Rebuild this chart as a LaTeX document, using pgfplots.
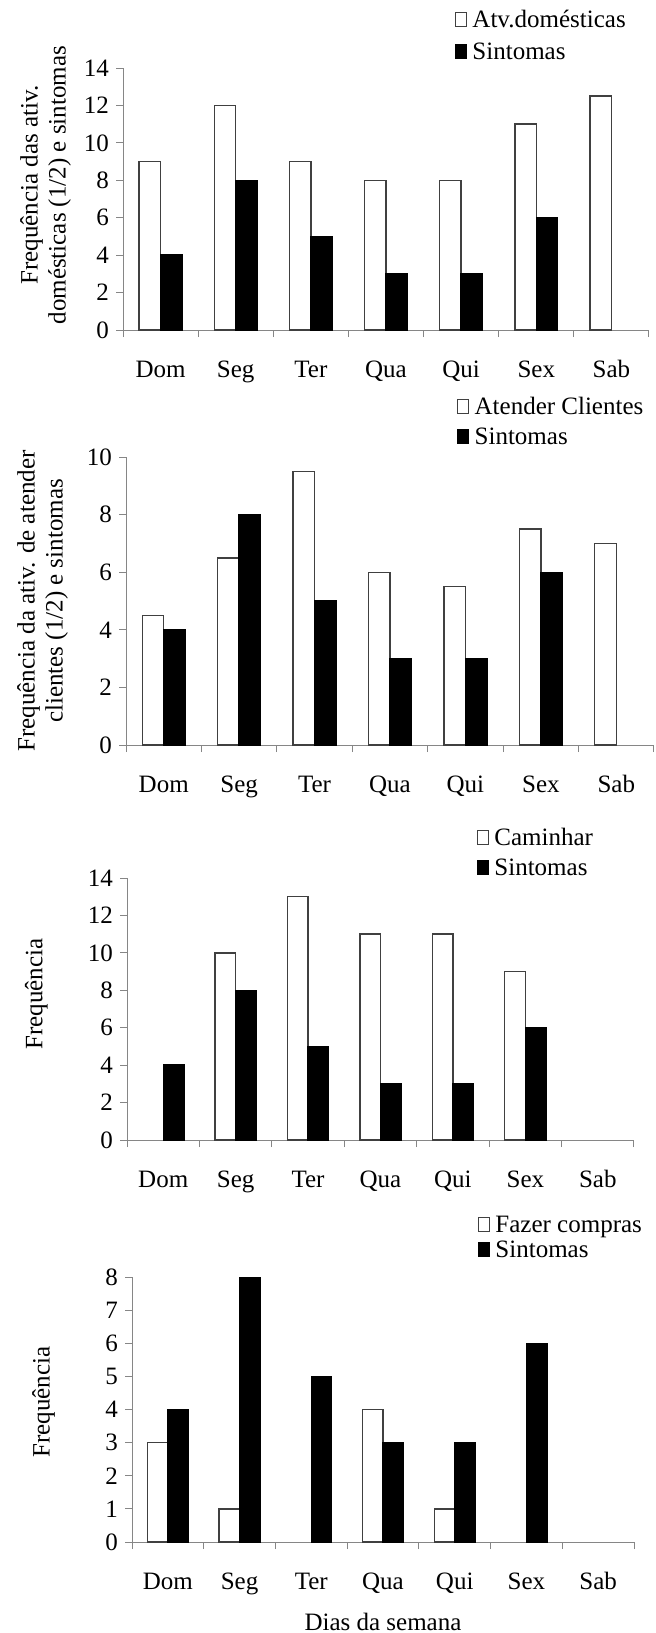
\documentclass[border=0pt]{standalone}
\usepackage{pgfplots}
\pgfplotsset{compat=1.18}
\usepackage{fontspec}
\setmainfont{Liberation Serif}
\definecolor{axisgray}{RGB}{134,134,134}
\newcommand\labfont{\fontsize{12.5}{14}\selectfont}
\pgfplotsset{
  dias/.style={
    scale only axis, ybar,
    xmin=-0.5, xmax=6.5, ymin=0,
    axis x line=bottom, axis y line=left,
    axis line style={draw=axisgray, line width=0.5pt, -},
    tick style={draw=axisgray, line width=0.5pt},
    tick align=outside,
    major tick length=3.5pt,
    xtick={-0.5,0.5,...,6.5}, xticklabels={},
    extra x ticks={0,1,...,6},
    extra x tick labels={Dom,Seg,Ter,Qua,Qui,Sex,Sab},
    extra x tick style={tick style={draw=none},
      xticklabel style={anchor=base, yshift=-20pt}},
    tick label style={font=\labfont},
    label style={font=\labfont},
    ylabel style={align=center, anchor=center},
    bar width=0.285,
    legend style={draw=none, fill=none, inner sep=0pt, anchor=west,
      cells={anchor=base west},
      nodes={inner sep=0pt, text height=9pt, text depth=3pt, font=\labfont}},
  },
  legbox/.style={legend image code/.code={%
      \draw[##1, line width=0.5pt] (0pt,0.5pt) rectangle (5.5pt,7.5pt);
      \path (8pt,0pt);}},
  branca/.style={fill=white, draw=black!75, line width=0.7pt, bar shift=-0.1425, legbox},
  preta/.style={fill=black, draw=black, line width=0.7pt, bar shift=0.1425, legbox},
}
\begin{document}
\begin{tikzpicture}
\useasboundingbox (0pt,0pt) rectangle (327.5pt,-816.5pt);

% atividades domesticas
\begin{axis}[dias, at={(61.5pt,-165pt)}, anchor=south west,
    width=263pt, height=131pt, ymax=14,
    ytick={0,2,...,14}, yticklabels={0,2,4,6,8,10,12,14},
    ylabel={Frequência das ativ.\\domésticas (1/2) e sintomas},
    ylabel style={at={(axis description cs:-0.147,0.553)}},
    legend style={at={(axis description cs:0.631,1.118)}, row sep=4pt}]
  \addplot[branca] coordinates {(0,9) (1,12) (2,9) (3,8) (4,8) (5,11) (6,12.5)};
  \addplot[preta] coordinates {(0,4) (1,8) (2,5) (3,3) (4,3) (5,6)};
  \legend{Atv.domésticas, Sintomas}
\end{axis}

% atender clientes
\begin{axis}[dias, at={(63pt,-372.5pt)}, anchor=south west,
    width=264pt, height=144pt, ymax=10,
    ytick={0,2,...,10}, yticklabels={0,2,4,6,8,10},
    ylabel={Frequência da ativ. de atender\\clientes (1/2) e sintomas},
    ylabel style={at={(axis description cs:-0.158,0.5)}},
    legend style={at={(axis description cs:0.627,1.115)}, row sep=3pt}]
  \addplot[branca] coordinates {(0,4.5) (1,6.5) (2,9.5) (3,6) (4,5.5) (5,7.5) (6,7)};
  \addplot[preta] coordinates {(0,4) (1,8) (2,5) (3,3) (4,3) (5,6)};
  \legend{Atender Clientes, Sintomas}
\end{axis}

% caminhar
\begin{axis}[dias, at={(63.5pt,-570pt)}, anchor=south west,
    width=253.5pt, height=131pt, ymax=14,
    ytick={0,2,...,14}, yticklabels={0,2,4,6,8,10,12,14},
    ylabel={Frequência},
    ylabel style={at={(axis description cs:-0.179,0.557)}},
    legend style={at={(axis description cs:0.690,1.088)}, row sep=3pt}]
  \addplot[branca] coordinates {(1,10) (2,13) (3,11) (4,11) (5,9)};
  \addplot[preta] coordinates {(0,4) (1,8) (2,5) (3,3) (4,3) (5,6)};
  \legend{Caminhar, Sintomas}
\end{axis}

% fazer compras
\begin{axis}[dias, at={(66pt,-771pt)}, anchor=south west,
    width=251pt, height=132.5pt, ymax=8,
    ytick={0,1,...,8}, yticklabels={0,1,2,3,4,5,6,7,8},
    ylabel={Frequência},
    ylabel style={at={(axis description cs:-0.176,0.528)}},
    xlabel={Dias da semana},
    xlabel style={at={(axis description cs:0.5,-0.302)}, anchor=center},
    legend style={at={(axis description cs:0.689,1.142)}, row sep=0.5pt}]
  \addplot[branca] coordinates {(0,3) (1,1) (3,4) (4,1)};
  \addplot[preta] coordinates {(0,4) (1,8) (2,5) (3,3) (4,3) (5,6)};
  \legend{Fazer compras, Sintomas}
\end{axis}
\end{tikzpicture}
\end{document}
